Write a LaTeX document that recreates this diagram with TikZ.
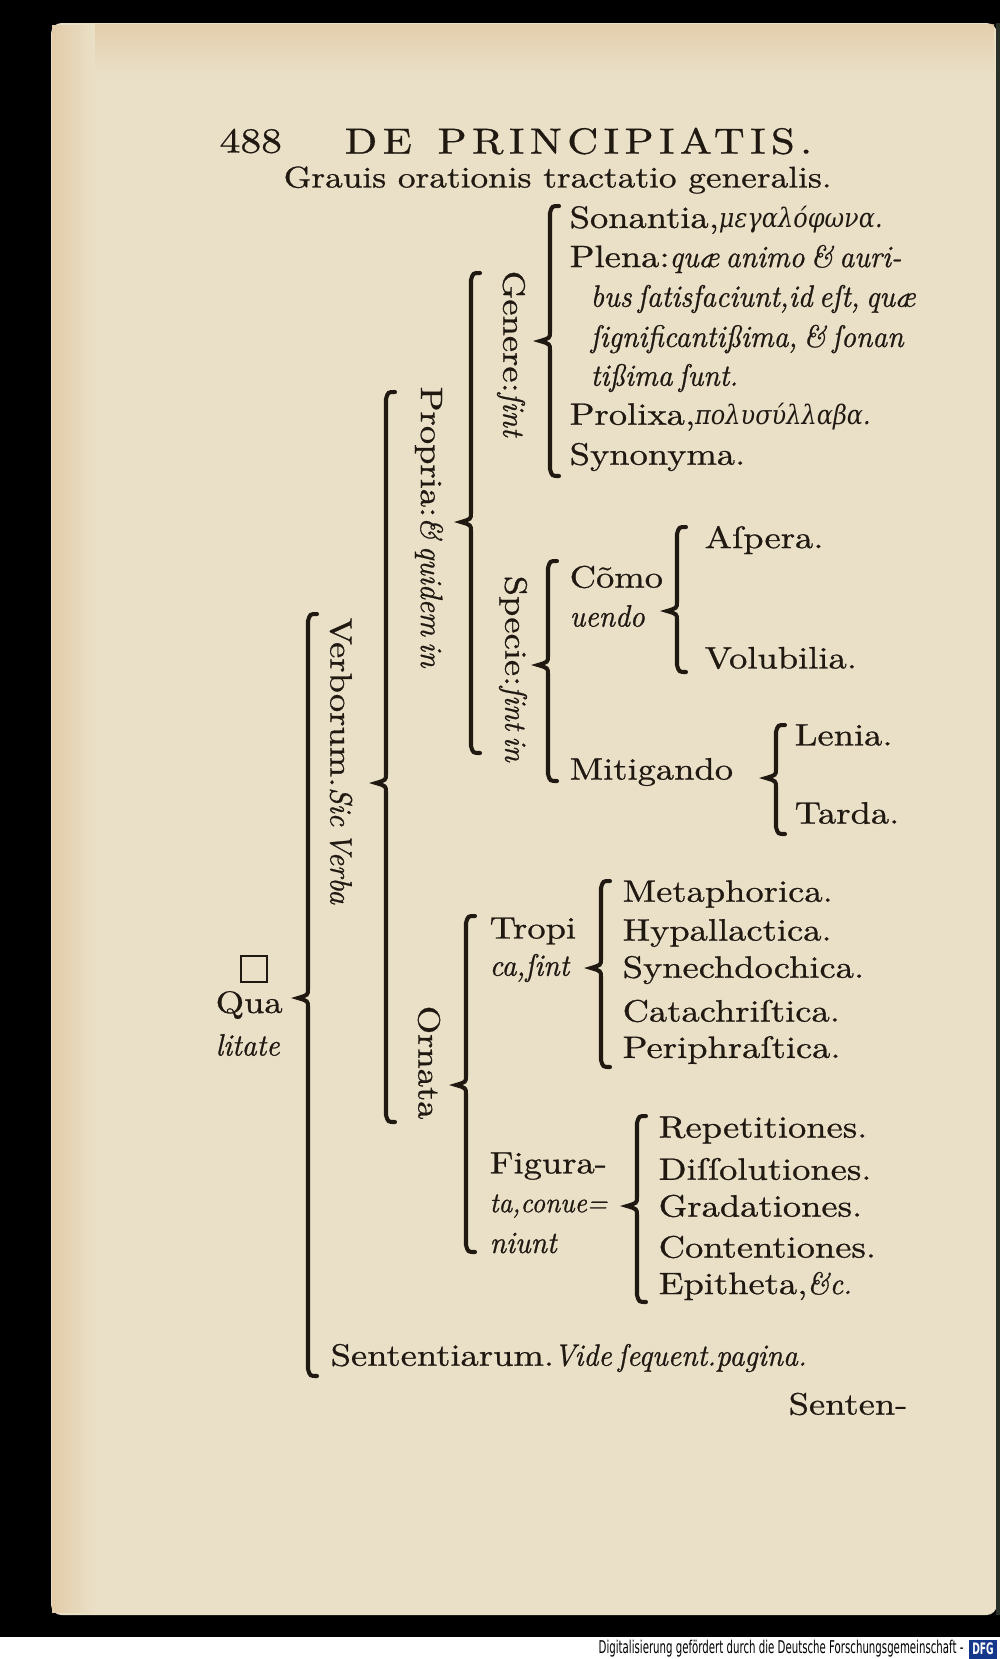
\documentclass[tikz,border=0pt]{standalone}
\usepackage{fontspec}
\setmainfont{lmroman10-regular.otf}[ItalicFont=lmroman10-italic.otf, UprightFeatures={FakeStretch=1.18}, ItalicFeatures={FakeStretch=0.94, WordSpace=0.6}, FakeBold=0.8]
\newfontfamily\grk{DejaVu Serif}[FakeStretch=0.9]
\newfontfamily\dfgfont{DejaVu Sans}[FakeStretch=0.58]
\definecolor{paper}{RGB}{234,224,199}
\definecolor{stain}{RGB}{205,150,90}
\definecolor{ink}{RGB}{32,25,18}
\definecolor{spine}{RGB}{40,48,40}
\definecolor{dfgblue}{RGB}{20,55,140}
\newcommand{\bk}{\fontsize{8.8}{10}\selectfont}
\newcommand{\gr}[1]{{\grk\itshape\fontsize{7.6}{9}\selectfont #1}}
% bracket: x, top, tip, bottom (pixel units, y downwards)
\newcommand{\bkt}[4]{%
  \draw[brk] (#1+9,#2) .. controls (#1+2,#2) .. (#1,#2+7) -- (#1,#3-9)
    .. controls (#1,#3-3) .. (#1-10,#3) .. controls (#1,#3+3) .. (#1,#3+9)
    -- (#1,#4-7) .. controls (#1+2,#4) .. (#1+9,#4);}
\tikzset{
  item/.style={anchor=west, inner sep=0pt, text=ink, font=\bk},
  vlabel/.style={anchor=west, rotate=-90, inner sep=0pt, text=ink, font=\bk},
  brk/.style={draw=ink, line width=1.15pt, line cap=round}
}
\begin{document}
\begin{tikzpicture}[x=0.01cm, y=-0.01cm]
  \useasboundingbox (0,0) rectangle (1000,1659);
  % page and scan border
  \fill[black] (0,0) rectangle (1000,1659);
  \fill[white] (0,1637) rectangle (1000,1659);
  \fill[paper, rounded corners=3pt] (51,23) rectangle (997,1615);
  \shade[left color=stain!28!paper, right color=paper] (52,25) rectangle (95,1612);
  \shade[top color=stain!30!paper, bottom color=paper, opacity=.8] (95,24) rectangle (994,75);
  \fill[spine] (996,23) rectangle (1000,1615);
  % header
  \node[item, font=\fontsize{10}{12}\selectfont] (num) at (219,141) {488};
  \node[item, font=\fontsize{10.3}{12}\selectfont\addfontfeature{LetterSpace=15}] (title) at (344,141) {DE\, PRINCIPIATIS.};
  \node[item, font=\fontsize{8.5}{10}\selectfont] (subtitle) at (283,180) {Grauis orationis tractatio generalis.};
  % Qualitate
  \node[draw=ink, line width=0.6pt, minimum size=0.26cm, inner sep=0pt] (box) at (254,969) {};
  \node[item] (qua) at (215,1005) {Qua};
  \node[item] (litate) at (215,1045) {\textit{litate}};
  \bkt{308}{614}{998}{1376}
  \node[vlabel] (verb) at (341,617) {Verborum.\textit{Sic Verba}};
  \node[item] (sent) at (330,1358) {Sententiarum.\textit{Vide ſequent.pagina.}};
  % Verborum
  \bkt{386}{392}{783}{1122}
  \node[vlabel] (prop) at (429,386) {Propria:\textit{\& quidem in}};
  \node[vlabel] (orn) at (429,1005) {Ornata};
  % Propria
  \bkt{471}{273}{522}{753}
  \node[vlabel] (gen) at (511,270) {Genere:\textit{ſint}};
  \node[vlabel] (spec) at (513,575) {Specie:\textit{ſint in}};
  % Genere
  \bkt{550}{206}{341}{476}
  \node[item] (son) at (569,220) {Sonantia,\gr{μεγαλόφωνα.}};
  \node[item] (plen1) at (569,259) {Plena:\textit{quæ animo \& auri-}};
  \node[item] (plen2) at (590,299) {\textit{bus ſatisfaciunt,id eſt, quæ}};
  \node[item] (plen3) at (590,339) {\textit{ſignificantißima, \& ſonan}};
  \node[item] (plen4) at (590,378) {\textit{tißima ſunt.}};
  \node[item] (prol) at (569,417) {Prolixa,\gr{πολυσύλλαβα.}};
  \node[item] (syn) at (569,457) {Synonyma.};
  % Specie
  \bkt{548}{561}{665}{781}
  \node[item] (comm1) at (569,577) {Cõmo};
  \node[item] (comm2) at (569,616) {\textit{uendo}};
  \node[item] (mit) at (569,772) {Mitigando};
  \bkt{677}{527}{611}{672}
  \node[item] (asp) at (704,540) {Aſpera.};
  \node[item] (vol) at (704,658) {Volubilia.};
  \bkt{776}{725}{778}{834}
  \node[item] (len) at (794,735) {Lenia.};
  \node[item] (tard) at (794,813) {Tarda.};
  % Ornata
  \bkt{466}{916}{1085}{1252}
  \node[item] (trop1) at (489,931) {Tropi};
  \node[item] (trop2) at (489,968) {\textit{ca,ſint}};
  \node[item] (fig1) at (489,1166) {Figura-};
  \node[item, font=\fontsize{8.1}{10}\selectfont] (fig2) at (489,1206) {\textit{ta,conue=}};
  \node[item] (fig3) at (489,1243) {\textit{niunt}};
  \bkt{601}{881}{968}{1067}
  \node[item] (t1) at (622,894) {Metaphorica.};
  \node[item] (t2) at (622,933) {Hypallactica.};
  \node[item] (t3) at (622,970) {Synechdochica.};
  \node[item] (t4) at (622,1011) {Catachriſtica.};
  \node[item] (t5) at (622,1050) {Periphraſtica.};
  \bkt{637}{1116}{1206}{1302}
  \node[item] (f1) at (658,1130) {Repetitiones.};
  \node[item] (f2) at (658,1169) {Diſſolutiones.};
  \node[item] (f3) at (658,1206) {Gradationes.};
  \node[item] (f4) at (658,1247) {Contentiones.};
  \node[item] (f5) at (658,1286) {Epitheta,\textit{\&c.}};
  % catchword
  \node[item] (catch) at (788,1404) {Senten-};
  % scan credit
  \node[anchor=east, fill=dfgblue, text=white, inner sep=1pt, font=\dfgfont\bfseries\fontsize{4.5}{5}\selectfont] (dfg) at (998,1649) {DFG};
  \node[anchor=east, inner sep=0pt, font=\dfgfont\fontsize{5}{6}\selectfont] (credit) at ([xshift=-0.04cm]dfg.west) {Digitalisierung gefördert durch die Deutsche Forschungsgemeinschaft -};
\end{tikzpicture}
\end{document}
